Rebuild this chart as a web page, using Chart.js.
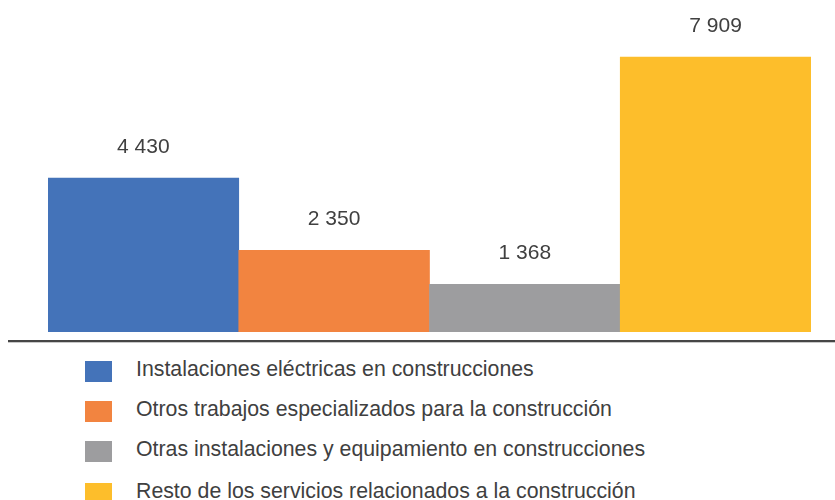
<!DOCTYPE html>
<html>
<head>
<meta charset="utf-8">
<script src="https://cdn.jsdelivr.net/npm/chart.js@4"></script>
<style>
  body { margin: 0; background: #fff; font-family: "Liberation Sans", Arial, sans-serif; }
  #wrap { position: relative; width: 835px; height: 500px; overflow: hidden; }
  #chartBox { position: absolute; left: 0; top: 0; width: 835px; height: 345px; }
  #legend { position: absolute; left: 85px; top: 361px; }
  .item { display: flex; align-items: center; height: 21px; margin-bottom: 19px; color: #404040; font-size: 21.3px; white-space: nowrap; }
  .item:nth-child(3) { margin-bottom: 21px; }
  .box { width: 27px; height: 21px; margin-right: 24px; flex: none; }
  .txt { position: relative; top: -2px; }
</style>
</head>
<body>
<div id="wrap">
  <div id="chartBox"><canvas id="barChart"></canvas></div>
  <div id="legend"></div>
</div>
<script>
// Data
const categories = [
    'Instalaciones eléctricas en construcciones',
    'Otros trabajos especializados para la construcción',
    'Otras instalaciones y equipamiento en construcciones',
    'Resto de los servicios relacionados a la construcción'
];
const values = [4430, 2350, 1368, 7909];
const colors = ['#4473B9', '#F28440', '#9D9D9F', '#FDBE2B'];

// format 7909 -> "7 909"
function fmt(v) {
    return String(v).replace(/\B(?=(\d{3})+(?!\d))/g, ' ');
}

// value labels above bars + long base line under the bars
const extras = {
    id: 'extras',
    afterDatasetsDraw(chart) {
        const c = chart.ctx;
        c.save();
        c.fillStyle = '#404040';
        c.font = '21px "Liberation Sans", Arial, sans-serif';
        c.textAlign = 'center';
        c.textBaseline = 'alphabetic';
        chart.getDatasetMeta(0).data.forEach((bar, i) => {
            c.fillText(fmt(values[i]), bar.x, bar.y - 25);
        });
        const y = chart.chartArea.bottom + 8;
        c.fillStyle = '#464646';
        c.fillRect(8, y, chart.width - 8, 2);
        c.fillStyle = '#c8c8c8';
        c.fillRect(8, y + 2, chart.width - 8, 1);
        c.restore();
    }
};

const ctx = document.getElementById('barChart');
new Chart(ctx, {
    type: 'bar',
    data: {
        labels: categories,
        datasets: [{
            data: values,
            backgroundColor: colors,
            borderWidth: 0,
            categoryPercentage: 1,
            barPercentage: 1
        }]
    },
    options: {
        responsive: true,
        maintainAspectRatio: false,
        animation: false,
        layout: { padding: { left: 48, right: 24, top: 0, bottom: 13 } },
        scales: {
            x: { display: false },
            y: { display: false, min: 0, max: 9550 }
        },
        plugins: {
            legend: { display: false },
            tooltip: { enabled: false }
        }
    },
    plugins: [extras]
});

// Legend
const legend = document.getElementById('legend');
categories.forEach((name, i) => {
    const row = document.createElement('div');
    row.className = 'item';
    row.innerHTML = '<span class="box" style="background:' + colors[i] + '"></span><span class="txt">' + name + '</span>';
    legend.appendChild(row);
});
</script>
</body>
</html>
